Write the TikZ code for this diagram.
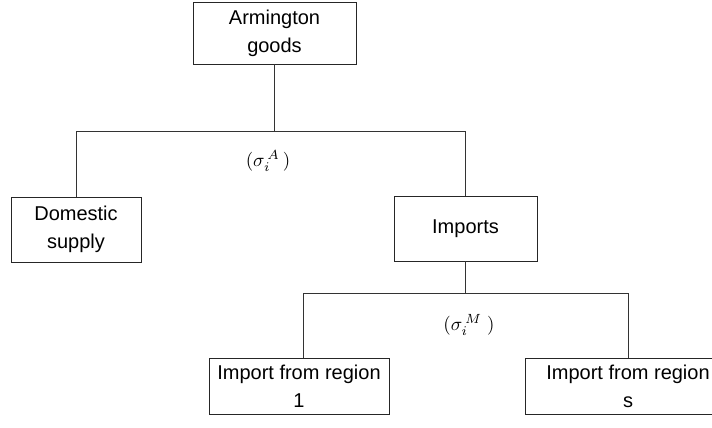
\documentclass[tikz,border=0pt]{standalone}
\usepackage{fontspec}
\setmainfont{Liberation Sans}
\usepackage{graphicx}
\usepackage{tikz}
\usetikzlibrary{positioning}
\tikzset{
  nest/.style={draw=black!85, line width=0.8pt, fill=white,
               align=center, inner sep=2pt,
               font=\fontsize{20}{28}\selectfont},
  link/.style={draw=black!80, line width=0.8pt}
}
\newcommand{\elas}[1]{\scalebox{1.9}{$#1$}}
\begin{document}
\begin{tikzpicture}[x=1pt, y=1pt]
  \useasboundingbox (0,0) rectangle (712,-428);
  \clip (0,0) rectangle (712,-428);
  % upper nest
  \node[nest, minimum width=163pt, minimum height=62pt] (arm) at (274.5,-33) {Armington\\goods};
  \node[nest, minimum width=130pt, minimum height=65pt] (dom) at (76,-229.5) {Domestic\\supply};
  \node[nest, minimum width=143pt, minimum height=65pt] (imp) at (465.5,-228.5) {Imports};
  % lower nest
  \node[nest, minimum width=180pt, minimum height=56pt] (reg1) at (299,-386) {Import from region\\1};
  \node[nest, minimum width=206pt, minimum height=56pt] (regs) at (628,-386) {Import from region\\s};
  \draw[link] (arm.south) -- ++(0,-67) coordinate (jA);
  \draw[link] (dom.north) |- (jA) -| (imp.north);
  \draw[link] (imp.south) -- ++(0,-32) coordinate (jM);
  \draw[link] ([xshift=4pt]reg1.north) |- (jM) -| (regs.north);
  \node (sigA) at (268,-161) {\elas{(\sigma_i^{\,A}\,)}};
  \node (sigM) at (469,-325) {\elas{(\sigma_i^{\,M}\;)}};
\end{tikzpicture}
\end{document}
